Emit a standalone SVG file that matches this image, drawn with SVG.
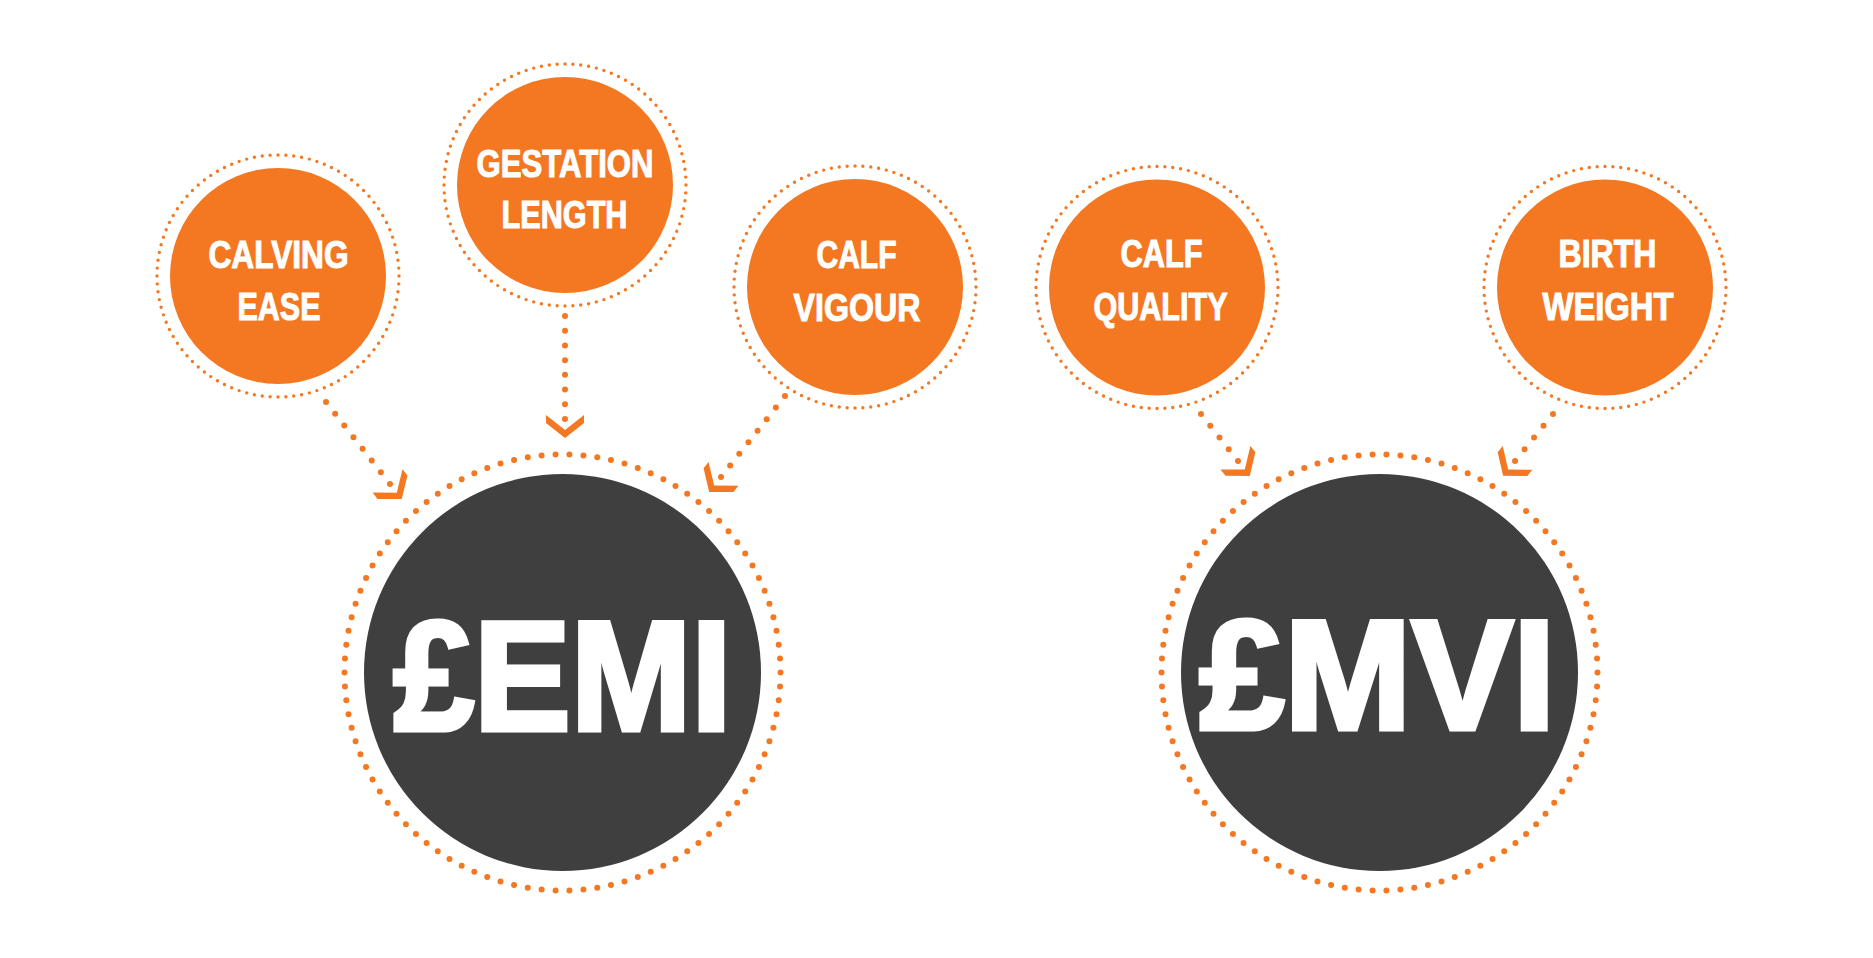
<svg xmlns="http://www.w3.org/2000/svg" xmlns:xlink="http://www.w3.org/1999/xlink" width="1873" height="958" viewBox="0 0 1873 958">
<style>
.bg{fill:#ffffff}
.trait{fill:#f47721}
.ring-s{fill:none;stroke:#f47721;stroke-width:3.4;stroke-linecap:round;stroke-dasharray:0 1}
.ring-b{fill:none;stroke:#f47721;stroke-width:6;stroke-linecap:round;stroke-dasharray:0 1}
.index{fill:#3f3f3f}
.lbl{font-family:'Liberation Sans Narrow','Liberation Sans',Arial,sans-serif;font-weight:bold;font-size:39px;fill:#ffffff;stroke:#ffffff;stroke-width:1.1;stroke-linejoin:miter;text-anchor:middle}
.big{font-family:'Liberation Sans Narrow','Liberation Sans',Arial,sans-serif;font-weight:bold;font-size:155px;fill:#ffffff;stroke:#ffffff;stroke-width:5;stroke-linejoin:miter}
.dots{fill:none;stroke:#f47721;stroke-width:6;stroke-linecap:round}
.chev{fill:#f47721}
</style>
<defs>
<polygon id="chevron" points="0,0 -15,19 -23,19 -8,0 -23,-19 -15,-19"/>
</defs>
<rect class="bg" x="0" y="0" width="1873" height="958"/>

<g id="connectors">
<line class="dots" x1="326" y1="402" x2="390.3" y2="484.4" stroke-dasharray="0 14.86"/>
<use xlink:href="#chevron" class="chev" transform="translate(401.7,499) rotate(52)"/>
<line class="dots" x1="565" y1="316" x2="565" y2="419.5" stroke-dasharray="0 14.71"/>
<use xlink:href="#chevron" class="chev" transform="translate(565,438) rotate(90)"/>
<line class="dots" x1="785" y1="396" x2="720.7" y2="477.4" stroke-dasharray="0 14.75"/>
<use xlink:href="#chevron" class="chev" transform="translate(709.2,491.9) rotate(128.3)"/>
<line class="dots" x1="1201" y1="414" x2="1238.3" y2="461.4" stroke-dasharray="0 14.95"/>
<use xlink:href="#chevron" class="chev" transform="translate(1249.7,475.9) rotate(51.8)"/>
<line class="dots" x1="1553" y1="414" x2="1514.7" y2="461.4" stroke-dasharray="0 15.1"/>
<use xlink:href="#chevron" class="chev" transform="translate(1503.1,475.8) rotate(128.9)"/>
</g>

<g id="calving-ease">
<circle class="ring-s" cx="278" cy="276" r="121" pathLength="96"/>
<circle class="trait" cx="278" cy="276" r="108"/>
<text class="lbl" x="278.5" y="267.5" textLength="140" lengthAdjust="spacingAndGlyphs">CALVING</text>
<text class="lbl" x="279" y="319.5" textLength="83" lengthAdjust="spacingAndGlyphs">EASE</text>
</g>

<g id="gestation-length">
<circle class="ring-s" cx="565" cy="185" r="121" pathLength="96"/>
<circle class="trait" cx="565" cy="185" r="108"/>
<text class="lbl" x="565" y="176.5" textLength="177" lengthAdjust="spacingAndGlyphs">GESTATION</text>
<text class="lbl" x="564.5" y="227.5" textLength="126" lengthAdjust="spacingAndGlyphs">LENGTH</text>
</g>

<g id="calf-vigour">
<circle class="ring-s" cx="855" cy="287" r="121" pathLength="96"/>
<circle class="trait" cx="855" cy="287" r="108"/>
<text class="lbl" x="856.5" y="267.5" textLength="80" lengthAdjust="spacingAndGlyphs">CALF</text>
<text class="lbl" x="857" y="320.5" textLength="127" lengthAdjust="spacingAndGlyphs">VIGOUR</text>
</g>

<g id="calf-quality">
<circle class="ring-s" cx="1157" cy="287.5" r="121" pathLength="96"/>
<circle class="trait" cx="1157" cy="287.5" r="108"/>
<text class="lbl" x="1161.5" y="266.5" textLength="82" lengthAdjust="spacingAndGlyphs">CALF</text>
<text class="lbl" x="1160.5" y="319.5" textLength="134" lengthAdjust="spacingAndGlyphs">QUALITY</text>
</g>

<g id="birth-weight">
<circle class="ring-s" cx="1605" cy="287.5" r="121" pathLength="96"/>
<circle class="trait" cx="1605" cy="287.5" r="108"/>
<text class="lbl" x="1607.5" y="266.5" textLength="98" lengthAdjust="spacingAndGlyphs">BIRTH</text>
<text class="lbl" x="1608" y="319.5" textLength="131" lengthAdjust="spacingAndGlyphs">WEIGHT</text>
</g>

<g id="emi">
<circle class="ring-b" cx="562.5" cy="672.5" r="218" pathLength="98"/>
<circle class="index" cx="562.5" cy="672.5" r="198.5"/>
<text class="big" x="393.5" y="729.5" textLength="338" lengthAdjust="spacingAndGlyphs">£EMI</text>
</g>

<g id="mvi">
<circle class="ring-b" cx="1379.5" cy="672.5" r="218" pathLength="98"/>
<circle class="index" cx="1379.5" cy="672.5" r="198.5"/>
<text class="big" x="1199.5" y="728.5" textLength="356" lengthAdjust="spacingAndGlyphs">£MVI</text>
</g>
</svg>
